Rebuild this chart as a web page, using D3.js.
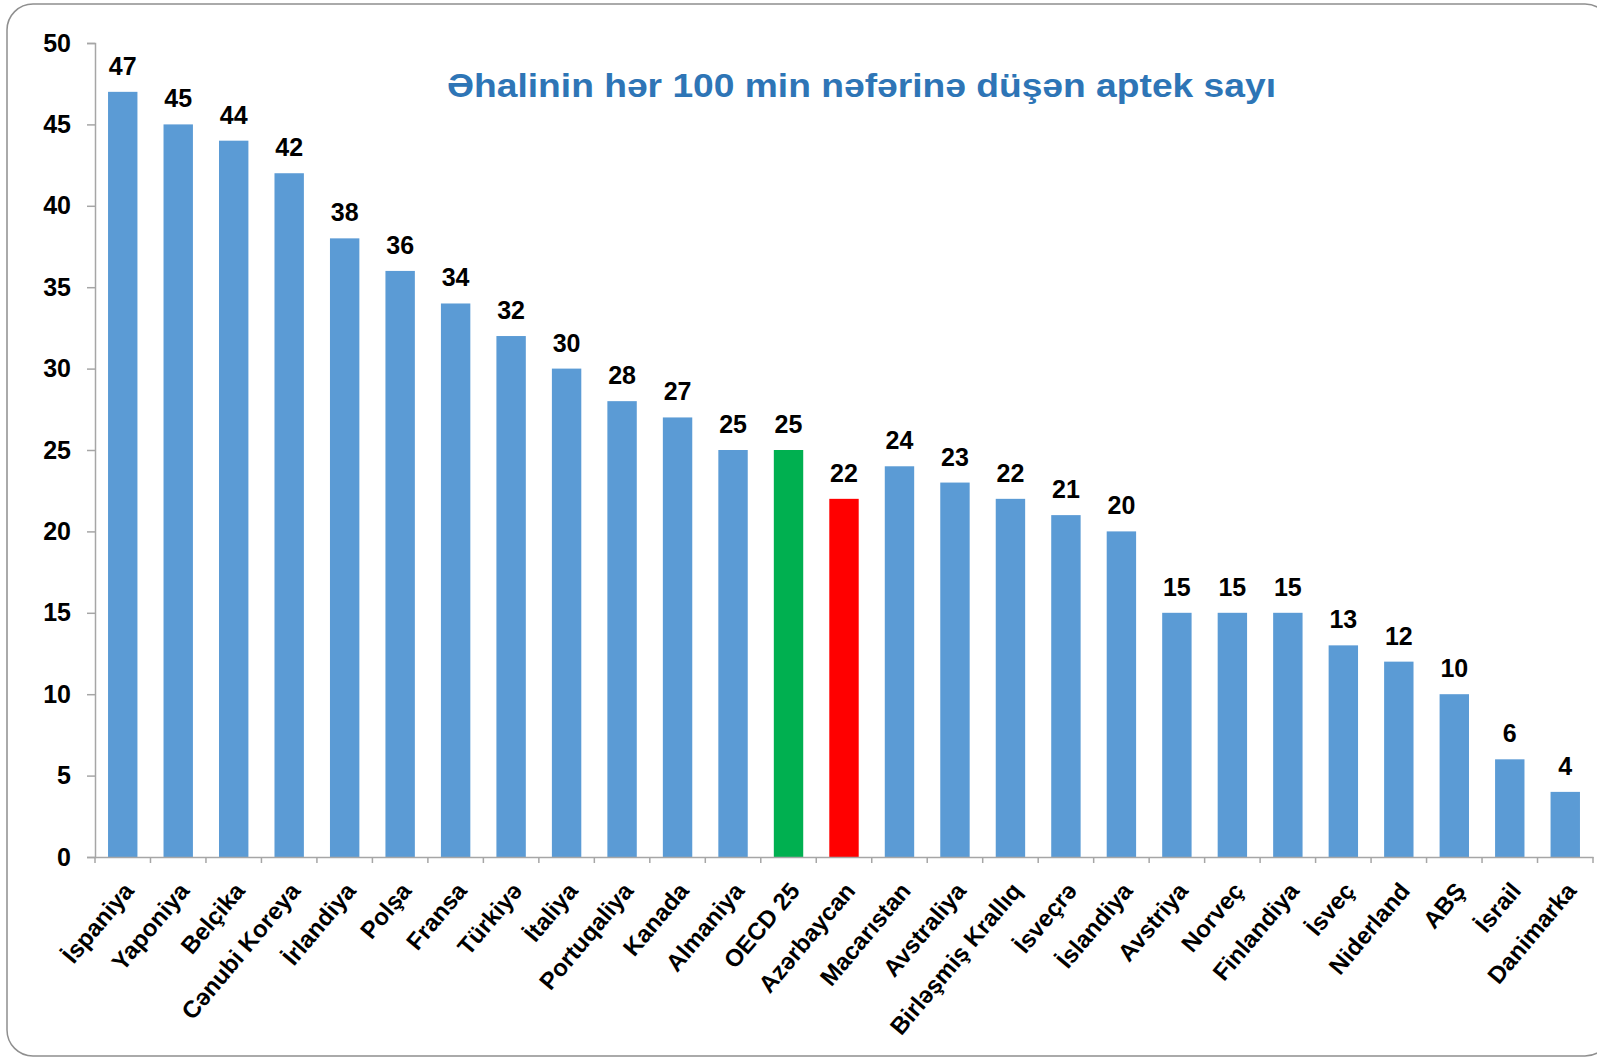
<!DOCTYPE html>
<html>
<head>
<meta charset="utf-8">
<script src="https://cdn.jsdelivr.net/npm/d3@7"></script>
<style>
  body { margin: 0; background: #fff; }
  svg { display: block; font-family: "Liberation Sans", Arial, sans-serif; }
</style>
</head>
<body>
<svg id="chart" width="1597" height="1058"></svg>
<script>
const countries = [
  "İspaniya", "Yaponiya", "Belçika", "Cənubi Koreya", "İrlandiya", "Polşa",
  "Fransa", "Türkiyə", "İtaliya", "Portuqaliya", "Kanada", "Almaniya",
  "OECD 25", "Azərbaycan", "Macarıstan", "Avstraliya", "Birləşmiş Krallıq",
  "İsveçrə", "İslandiya", "Avstriya", "Norveç", "Finlandiya", "İsveç",
  "Niderland", "ABŞ", "İsrail", "Danimarka"
];
const pharmacies = [47, 45, 44, 42, 38, 36, 34, 32, 30, 28, 27, 25, 25, 22,
  24, 23, 22, 21, 20, 15, 15, 15, 13, 12, 10, 6, 4];
const yTicks = [0, 5, 10, 15, 20, 25, 30, 35, 40, 45, 50];
const title = "Əhalinin hər 100 min nəfərinə düşən aptek sayı";

// highlighted bars
const barColor = (name) =>
  name === "OECD 25" ? "#00b050" : name === "Azərbaycan" ? "#ff0000" : "#5b9bd5";

const svg = d3.select("#chart");

// rounded frame
svg.append("rect")
  .attr("x", 7).attr("y", 4)
  .attr("width", 1604).attr("height", 1052)
  .attr("rx", 26).attr("ry", 26)
  .attr("fill", "none")
  .attr("stroke", "#8f8f8f")
  .attr("stroke-width", 1.5);

const x = d3.scaleBand()
  .domain(countries)
  .range([95, 1593])
  .paddingInner(0.47)
  .paddingOuter(0.235);

const y = d3.scaleLinear()
  .domain([0, 50])
  .range([857, 43]);

// y axis
const yAxis = svg.append("g")
  .attr("transform", "translate(95,0)")
  .call(d3.axisLeft(y).tickValues(yTicks).tickSize(8).tickPadding(16));
yAxis.select(".domain").attr("stroke", "#a6a6a6").attr("stroke-width", 1.5);
yAxis.selectAll(".tick line").attr("stroke", "#a6a6a6").attr("stroke-width", 1.5);
yAxis.selectAll(".tick text")
  .attr("font-size", 25).attr("font-weight", "bold").attr("fill", "#000")
  .attr("font-family", "Liberation Sans, Arial, sans-serif");

// bars
svg.append("g").selectAll("rect")
  .data(countries)
  .join("rect")
  .attr("x", (d) => x(d))
  .attr("y", (d, i) => y(pharmacies[i]))
  .attr("width", x.bandwidth())
  .attr("height", (d, i) => y(0) - y(pharmacies[i]))
  .attr("fill", (d) => barColor(d));

// value labels
svg.append("g").selectAll("text")
  .data(countries)
  .join("text")
  .attr("x", (d) => x(d) + x.bandwidth() / 2)
  .attr("y", (d, i) => y(pharmacies[i]) - 17)
  .attr("text-anchor", "middle")
  .attr("font-size", 25)
  .attr("font-weight", "bold")
  .attr("fill", "#000")
  .text((d, i) => pharmacies[i]);

// x axis
const xAxis = svg.append("g")
  .attr("transform", "translate(0,857)")
  .call(d3.axisBottom(x).tickSize(0).tickFormat(""));
xAxis.select(".domain").attr("stroke", "#a6a6a6").attr("stroke-width", 1.5);

const step = x.step();
svg.append("g").selectAll("line")
  .data(d3.range(countries.length + 1))
  .join("line")
  .attr("x1", (i) => 95 + i * step)
  .attr("x2", (i) => 95 + i * step)
  .attr("y1", 857).attr("y2", 863)
  .attr("stroke", "#a6a6a6")
  .attr("stroke-width", 1.5);

svg.append("g").selectAll("text")
  .data(countries)
  .join("text")
  .attr("transform", (d) =>
    `translate(${x(d) + x.bandwidth() / 2 + 6},${886}) rotate(-50)`)
  .attr("text-anchor", "end")
  .attr("dy", "0.35em")
  .attr("font-size", 24)
  .attr("font-weight", "bold")
  .attr("fill", "#000")
  .text((d) => d);

// title
svg.append("text")
  .attr("x", 861.5)
  .attr("y", 97)
  .attr("text-anchor", "middle")
  .attr("font-size", 33)
  .attr("font-weight", "bold")
  .attr("fill", "#2e75b6")
  .attr("textLength", 829)
  .attr("lengthAdjust", "spacingAndGlyphs")
  .text(title);
</script>
</body>
</html>
